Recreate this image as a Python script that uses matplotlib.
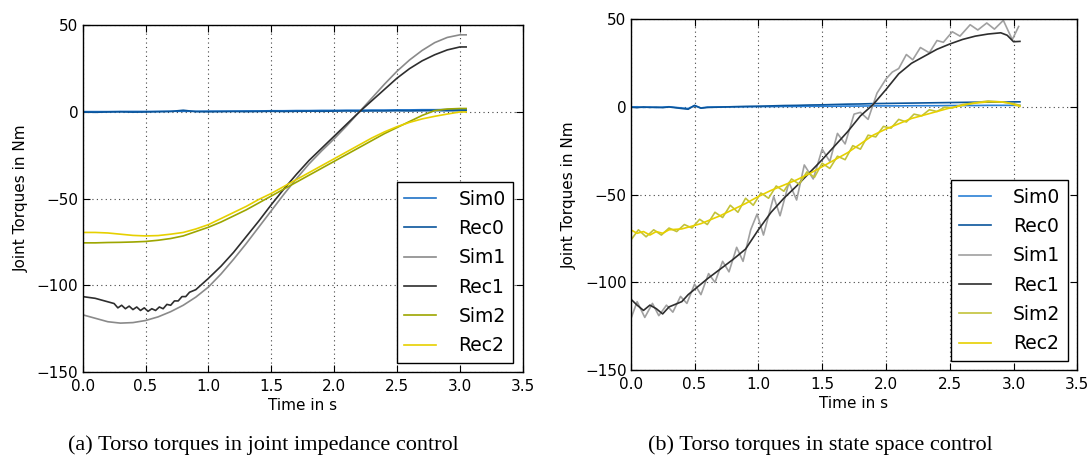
import matplotlib.pyplot as plt

# ---- (a) joint impedance control ----
t_a = [0.0, 0.1, 0.2, 0.3, 0.4, 0.5, 0.6, 0.7, 0.8, 0.9, 1.0, 1.1, 1.2, 1.3, 1.4, 1.5,
       1.6, 1.7, 1.8, 1.9, 2.0, 2.1, 2.2, 2.3, 2.4, 2.5, 2.6, 2.7, 2.8, 2.9, 3.0, 3.05]
sim0_a = [0.2, 0.2, 0.2, 0.3, 0.3, 0.3, 0.3, 0.4, 0.4, 0.4, 0.5, 0.5, 0.5, 0.6, 0.6, 0.7,
          0.7, 0.8, 0.8, 0.9, 0.9, 1.0, 1.0, 1.1, 1.1, 1.2, 1.2, 1.3, 1.3, 1.4, 1.5, 1.5]
rec0_a = [0.0, -0.2, 0.0, 0.1, -0.1, 0.0, 0.2, 0.3, 1.0, 0.2, 0.1, 0.2, 0.3, 0.2, 0.3, 0.4,
          0.3, 0.4, 0.5, 0.4, 0.5, 0.6, 0.5, 0.6, 0.6, 0.7, 0.6, 0.7, 0.8, 0.7, 0.8, 0.8]
sim1_a = [-117, -119, -121, -121.8, -121.5, -120.3, -118.2, -115.2, -111.5, -106.8, -101,
          -93.5, -85, -76, -66.5, -57, -47.5, -38.5, -30, -22.5, -15.5, -8, 0, 8, 16, 23.5,
          30, 35.5, 40, 43, 44.5, 44.5]
sim2_a = [-75.5, -75.5, -75.3, -75.2, -75, -74.7, -74, -73, -71.5, -69, -66.5, -63.5, -60,
          -56.5, -52.5, -48.5, -44.5, -40.5, -36.5, -32.5, -28.5, -24.5, -20.5, -16.5, -12.5,
          -9, -5.5, -2, 0.8, 1.7, 2, 2]
rec2_a = [-69.5, -69.5, -69.8, -70.5, -71.2, -71.5, -71.3, -70.5, -69.5, -67.5, -65, -61.5,
          -58, -54.5, -50.5, -47, -43, -39, -35, -31, -27, -23, -19, -15, -11.5, -8.5, -6,
          -4, -2.5, -1.2, 0, 0]

# Rec1 in (a) has a fine ripple, so it gets its own finer time axis
t_rec1_a = [0.0, 0.1, 0.2, 0.25, 0.28, 0.31, 0.34, 0.37, 0.4, 0.43, 0.46, 0.49, 0.52, 0.55,
            0.58, 0.61, 0.64, 0.67, 0.7, 0.73, 0.76, 0.79, 0.82, 0.85, 0.9, 1.0, 1.1, 1.2,
            1.3, 1.4, 1.5, 1.6, 1.7, 1.8, 1.9, 2.0, 2.1, 2.2, 2.3, 2.4, 2.5, 2.6, 2.7, 2.8,
            2.9, 3.0, 3.05]
rec1_a = [-106.5, -107.5, -109.5, -110.5, -113, -111.5, -113.5, -112, -114, -112.5, -114.5,
          -113, -115, -113.5, -114.5, -112.5, -113.5, -111, -111.5, -109, -109, -106.5,
          -106.5, -104, -102.5, -96, -89, -81, -72, -63, -53.5, -44.5, -36, -28, -21, -14,
          -7, 0, 6.5, 13, 19.5, 25, 29.5, 33, 35.8, 37.5, 37.5]

# ---- (b) state space control ----
t_b = [0.0, 0.05, 0.1, 0.15, 0.2, 0.25, 0.3, 0.4, 0.45, 0.5, 0.55, 0.6, 0.7, 0.8, 0.9, 1.0,
       1.1, 1.2, 1.3, 1.4, 1.5, 1.6, 1.7, 1.8, 1.9, 2.0, 2.1, 2.2, 2.3, 2.4, 2.5, 2.6, 2.7,
       2.8, 2.9, 2.95, 3.0, 3.05]
sim0_b = [0.0, 0.2, -0.2, 0.1, -0.3, 0.0, 0.2, -0.5, -0.8, 0.8, -0.5, 0.0, 0.1, 0.2, 0.2,
          0.3, 0.3, 0.4, 0.4, 0.5, 0.5, 0.5, 0.6, 0.6, 0.7, 0.7, 0.7, 0.8, 0.8, 0.8, 0.9,
          0.9, 0.9, 1.0, 1.0, 1.0, 1.0, 1.0]
rec0_b = [0.0, -0.3, 0.1, -0.2, 0.0, -0.3, 0.1, -0.8, -1.2, 1.0, -0.6, -0.2, 0.0, 0.2, 0.4,
          0.5, 0.7, 0.9, 1.0, 1.2, 1.3, 1.5, 1.7, 1.8, 2.0, 2.1, 2.2, 2.3, 2.4, 2.5, 2.6,
          2.7, 2.8, 2.8, 2.9, 2.9, 3.0, 3.0]
rec1_b = [-109.5, -113, -116, -113, -115, -118, -114, -111, -107, -104, -101, -98, -92.5,
          -87, -81, -70, -60, -52, -45, -37.5, -30, -22, -14, -5, 1.5, 10, 19, 25, 29, 33,
          36, 38.6, 40.5, 41.7, 42.4, 41, 37.3, 37.5]
rec2_b = [-70, -72, -71, -73, -71, -72, -70, -69.5, -68.5, -67.5, -66.5, -65, -62, -58.5,
          -55, -51, -47.5, -44.5, -41.5, -38, -34, -30, -26, -21, -16, -12.5, -9.5, -6.5,
          -4.5, -2.5, -0.5, 1, 2.3, 3, 3, 2.5, 1.5, 0.5]

t_sim1_b = [0.0, 0.05, 0.11, 0.17, 0.22, 0.28, 0.33, 0.39, 0.44, 0.5, 0.55, 0.61, 0.66,
            0.72, 0.77, 0.83, 0.88, 0.94, 0.99, 1.04, 1.12, 1.17, 1.24, 1.3, 1.36, 1.43,
            1.5, 1.56, 1.62, 1.68, 1.75, 1.8, 1.86, 1.93, 2.0, 2.05, 2.1, 2.16, 2.21, 2.27,
            2.34, 2.4, 2.45, 2.52, 2.58, 2.66, 2.72, 2.79, 2.85, 2.92, 2.99, 3.04]
sim1_b = [-121, -111, -120, -112, -119, -113, -117, -108, -112, -101, -107, -95, -100,
          -88, -94, -80, -88, -70, -61, -73, -51, -62, -43, -53, -33, -41, -24, -31, -15,
          -21, -4, -3, -7, 8, 16, 20, 22, 30, 27, 34, 31, 38, 37, 43, 40.5, 47, 44, 48,
          44.5, 49.5, 38.5, 46]

t_sim2_b = [0.0, 0.06, 0.12, 0.18, 0.24, 0.3, 0.36, 0.42, 0.48, 0.54, 0.6, 0.66, 0.72,
            0.78, 0.84, 0.9, 0.96, 1.02, 1.08, 1.14, 1.2, 1.26, 1.32, 1.38, 1.44, 1.5,
            1.56, 1.62, 1.68, 1.74, 1.8, 1.86, 1.92, 1.98, 2.04, 2.1, 2.16, 2.22, 2.28,
            2.34, 2.4, 2.46, 2.52, 2.6, 2.7, 2.8, 2.9, 3.0, 3.05]
sim2_b = [-76, -70, -74, -70, -73, -69, -71, -67, -69, -64, -67, -60, -63, -56, -60, -52,
          -56, -49, -52, -45, -48, -41, -44, -37, -40, -32, -35, -28, -30, -22, -24, -16,
          -17, -11, -12, -7, -8.5, -4, -5, -1.5, -2.5, 0, -0.5, 1.5, 2.5, 3.5, 3, 2, 1]

labels = ['Sim0', 'Rec0', 'Sim1', 'Rec1', 'Sim2', 'Rec2']
colors_a = ['#1f72c6', '#0a559c', '#8a8a8a', '#2e2e2e', '#9da600', '#e6d000']
colors_b = ['#2a80d6', '#0a559c', '#a0a0a0', '#2e2e2e', '#c2c23a', '#e6d000']

plt.rcParams['font.family'] = 'DejaVu Sans'

fig = plt.figure(figsize=(10.89, 4.65), dpi=100)
ax1 = fig.add_axes([0.0759, 0.2, 0.4041, 0.7456])
ax2 = fig.add_axes([0.5792, 0.2043, 0.4101, 0.7538])

series_a = [(t_a, sim0_a), (t_a, rec0_a), (t_a, sim1_a), (t_rec1_a, rec1_a), (t_a, sim2_a), (t_a, rec2_a)]
series_b = [(t_b, sim0_b), (t_b, rec0_b), (t_sim1_b, sim1_b), (t_b, rec1_b), (t_sim2_b, sim2_b), (t_b, rec2_b)]

for ax, series, colors in [(ax1, series_a, colors_a), (ax2, series_b, colors_b)]:
    for (x, y), label, color in zip(series, labels, colors):
        ax.plot(x, y, color=color, lw=1.2, label=label)
    ax.set_xlim(0, 3.5)
    ax.set_ylim(-150, 50)
    ax.set_xticks([0.0, 0.5, 1.0, 1.5, 2.0, 2.5, 3.0, 3.5])
    ax.set_yticks([-150, -100, -50, 0, 50])
    ax.xaxis.set_major_formatter(plt.FormatStrFormatter('%.1f'))
    ax.grid(True, color='#444444', linestyle=(0, (1, 3)), linewidth=0.8)
    ax.tick_params(direction='in', top=True, right=True, labelsize=11, length=5)
    ax.tick_params(axis='x', pad=5)
    ax.tick_params(axis='y', pad=3)
    ax.set_xlabel('Time in s', fontsize=11, labelpad=3)
    ax.set_ylabel('Joint Torques in Nm', fontsize=11, labelpad=6)
    for s in ax.spines.values():
        s.set_linewidth(1.0)
    leg = ax.legend(loc='lower right', fontsize=13.5, fancybox=False, framealpha=1,
                    edgecolor='black', handlelength=1.7, handletextpad=1.2,
                    labelspacing=0.55, borderaxespad=0.5)
    leg.get_frame().set_linewidth(1.0)

fig.text(0.2415, 0.032, '(a) Torso torques in joint impedance control',
         family='Liberation Serif', fontsize=16, ha='center')
fig.text(0.753, 0.032, '(b) Torso torques in state space control',
         family='Liberation Serif', fontsize=16, ha='center')

plt.savefig('out.png', dpi=100)
